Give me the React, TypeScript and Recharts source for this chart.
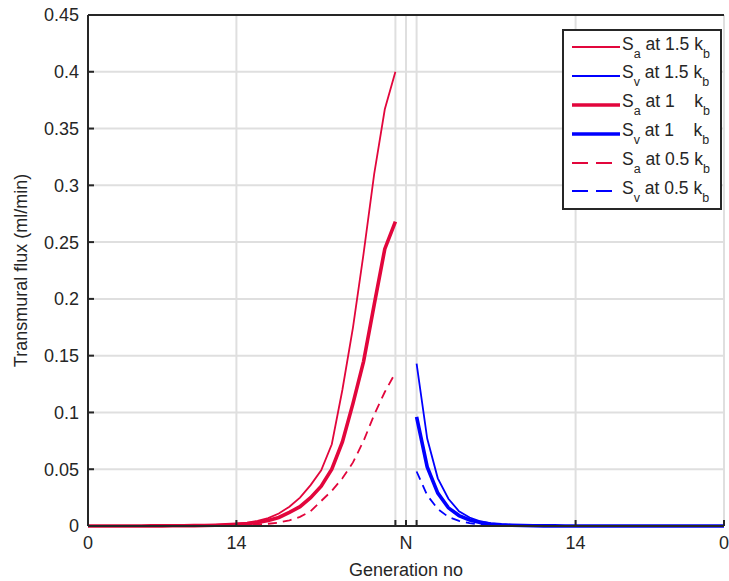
import React from 'react';
import { LineChart, Line, XAxis, YAxis, CartesianGrid, Legend } from 'recharts';

// x positions: arterial generations 0..29, N at 30, venous 31..60 (labelled back down to 0)
const xTicks = [0, 14, 29, 30, 31, 46, 60];
const xTickLabels = ['0', '14', '', 'N', '', '14', '0'];
const yTicks = [0, 0.05, 0.1, 0.15, 0.2, 0.25, 0.3, 0.35, 0.4, 0.45];
const yTickLabels = ['0', '0.05', '0.1', '0.15', '0.2', '0.25', '0.3', '0.35', '0.4', '0.45'];

const artGen = [0, 1, 2, 3, 4, 5, 6, 7, 8, 9, 10, 11, 12, 13, 14, 15, 16, 17, 18, 19, 20, 21, 22, 23, 24, 25, 26, 27, 28, 29];
const venGen = [31, 32, 33, 34, 35, 36, 37, 38, 39, 40, 41, 42, 43, 44, 45, 46, 47, 48, 49, 50, 51, 52, 53, 54, 55, 56, 57, 58, 59, 60];

// arterial transmural flux (ml/min)
const saHigh = [0, 0, 0, 0, 0, 0.0001, 0.0001, 0.0002, 0.0002, 0.0003, 0.0005, 0.0007, 0.001, 0.0015, 0.002, 0.003, 0.0045, 0.007, 0.011, 0.017, 0.025, 0.036, 0.049, 0.072, 0.12, 0.175, 0.24, 0.31, 0.367, 0.4];
const saMid = [0, 0, 0, 0, 0, 0, 0.0001, 0.0001, 0.0002, 0.0002, 0.0003, 0.0005, 0.0007, 0.001, 0.0014, 0.002, 0.003, 0.0048, 0.0075, 0.012, 0.017, 0.025, 0.035, 0.05, 0.074, 0.108, 0.145, 0.195, 0.244, 0.268];
const saLow = [0, 0, 0, 0, 0, 0, 0, 0, 0.0001, 0.0001, 0.0002, 0.0002, 0.0003, 0.0004, 0.0005, 0.0008, 0.0013, 0.002, 0.003, 0.005, 0.008, 0.013, 0.022, 0.031, 0.042, 0.056, 0.075, 0.098, 0.118, 0.135];

// venous transmural flux (ml/min)
const svHigh = [0.143, 0.077, 0.042, 0.024, 0.013, 0.0075, 0.0042, 0.0024, 0.0014, 0.0008, 0.0005, 0.0003, 0.0002, 0.0001, 0.0001, 0, 0, 0, 0, 0, 0, 0, 0, 0, 0, 0, 0, 0, 0, 0];
const svMid = [0.096, 0.052, 0.029, 0.016, 0.0092, 0.0053, 0.003, 0.0018, 0.001, 0.0006, 0.0004, 0.0002, 0.0001, 0.0001, 0, 0, 0, 0, 0, 0, 0, 0, 0, 0, 0, 0, 0, 0, 0, 0];
const svLow = [0.048, 0.027, 0.015, 0.008, 0.0045, 0.0025, 0.0014, 0.0008, 0.0005, 0.0003, 0.0002, 0.0001, 0, 0, 0, 0, 0, 0, 0, 0, 0, 0, 0, 0, 0, 0, 0, 0, 0, 0];

const RED = '#e2063c';
const BLUE = '#0000ff';
const AXIS = '#262626';
const FONT = '"Liberation Sans", Arial, Helvetica, sans-serif';
const TICK_FONT = 18;
const LABEL_FONT = 18;

const toPoints = (gens: number[], vals: number[]) => gens.map((x, i) => ({ x, y: vals[i] }));

const series = [
  { id: 'saHigh', sub: 'a', kb: '1.5', color: RED, width: 1.8, dash: undefined, data: toPoints(artGen, saHigh) },
  { id: 'svHigh', sub: 'v', kb: '1.5', color: BLUE, width: 1.8, dash: undefined, data: toPoints(venGen, svHigh) },
  { id: 'saMid', sub: 'a', kb: '1', color: RED, width: 3.6, dash: undefined, data: toPoints(artGen, saMid) },
  { id: 'svMid', sub: 'v', kb: '1', color: BLUE, width: 3.6, dash: undefined, data: toPoints(venGen, svMid) },
  { id: 'saLow', sub: 'a', kb: '0.5', color: RED, width: 1.8, dash: '9 6', data: toPoints(artGen, saLow) },
  { id: 'svLow', sub: 'v', kb: '0.5', color: BLUE, width: 1.8, dash: '9 6', data: toPoints(venGen, svLow) },
];

const TICK_GAP = 9;

const BottomTick = (props: any) => {
  const { x, y, index } = props;
  const axisY = y - TICK_GAP;
  return (
    <g>
      <line x1={x} x2={x} y1={axisY} y2={axisY - 6} stroke={AXIS} strokeWidth={2} />
      <text x={x} y={y} dy="0.76em" textAnchor="middle" fill={AXIS} fontSize={TICK_FONT} fontFamily={FONT}>
        {xTickLabels[index]}
      </text>
    </g>
  );
};

const TopTick = (props: any) => {
  const { x, y } = props;
  return <line x1={x} x2={x} y1={y} y2={y + 6} stroke={AXIS} strokeWidth={2} />;
};

const LeftTick = (props: any) => {
  const { x, y, index } = props;
  const axisX = x + TICK_GAP;
  return (
    <g>
      <line x1={axisX} x2={axisX + 6} y1={y} y2={y} stroke={AXIS} strokeWidth={2} />
      <text x={x} y={y} dy="0.36em" textAnchor="end" fill={AXIS} fontSize={TICK_FONT} fontFamily={FONT}>
        {yTickLabels[index]}
      </text>
    </g>
  );
};

const renderLegend = () => (
  <div
    style={{
      border: `2px solid ${AXIS}`,
      background: '#fff',
      width: 156,
      height: 175,
      paddingTop: 2,
      boxSizing: 'content-box',
      fontFamily: FONT,
      color: AXIS,
    }}
  >
    {series.map((s) => (
      <div key={s.id} style={{ display: 'flex', alignItems: 'center', height: 28.8 }}>
        <svg width={52} height={10} style={{ marginLeft: 6 }}>
          <line x1={2} x2={50} y1={5} y2={5} stroke={s.color} strokeWidth={s.width} strokeDasharray={s.dash ? '16 8' : undefined} />
        </svg>
        <span style={{ fontSize: 17.5, lineHeight: 1, whiteSpace: 'pre', position: 'relative', top: -3 }}>
          S<span style={{ fontSize: 12.5, position: 'relative', top: 8 }}>{s.sub}</span>
          {s.kb === '1' ? ' at 1    k' : ` at ${s.kb} k`}
          <span style={{ fontSize: 12.5, position: 'relative', top: 8 }}>b</span>
        </span>
      </div>
    ))}
  </div>
);

export default function App() {
  return (
    <div style={{ position: 'absolute', left: 0, top: 0, width: 729, height: 581, background: '#fff' }}>
      <LineChart width={729} height={581} margin={{ top: 0, right: 5, bottom: 0, left: 0 }}>
        <CartesianGrid stroke="#dfdfdf" strokeWidth={2} />
        <XAxis
          xAxisId="top"
          orientation="top"
          type="number"
          dataKey="x"
          domain={[0, 60]}
          ticks={xTicks}
          height={15}
          tickSize={0}
          tickMargin={0}
          tickLine={false}
          tick={<TopTick />}
          axisLine={{ stroke: AXIS, strokeWidth: 2 }}
          interval={0}
        />
        <XAxis
          type="number"
          dataKey="x"
          domain={[0, 60]}
          ticks={xTicks}
          height={55}
          tickSize={0}
          tickMargin={TICK_GAP}
          tickLine={false}
          tick={<BottomTick />}
          axisLine={{ stroke: AXIS, strokeWidth: 2 }}
          interval={0}
          label={{ value: 'Generation no', position: 'insideBottom', offset: 5, style: { fontSize: LABEL_FONT, fill: AXIS, fontFamily: FONT } }}
        />
        <YAxis
          type="number"
          domain={[0, 0.45]}
          ticks={yTicks}
          width={88}
          tickSize={0}
          tickMargin={TICK_GAP}
          tickLine={false}
          tick={<LeftTick />}
          axisLine={{ stroke: AXIS, strokeWidth: 2 }}
          interval={0}
          label={{
            value: 'Transmural flux (ml/min)',
            angle: -90,
            position: 'insideLeft',
            offset: 21,
            style: { fontSize: LABEL_FONT, fill: AXIS, fontFamily: FONT, textAnchor: 'middle' },
          }}
        />
        {series.map((s) => (
          <Line
            key={s.id}
            data={s.data}
            dataKey="y"
            type="linear"
            stroke={s.color}
            strokeWidth={s.width}
            strokeDasharray={s.dash}
            dot={false}
            activeDot={false}
            isAnimationActive={false}
          />
        ))}
        <Legend
          content={renderLegend}
          layout="vertical"
          align="center"
          verticalAlign="middle"
          wrapperStyle={{ left: 562, top: 29, width: 'auto', height: 'auto' }}
        />
      </LineChart>
    </div>
  );
}
